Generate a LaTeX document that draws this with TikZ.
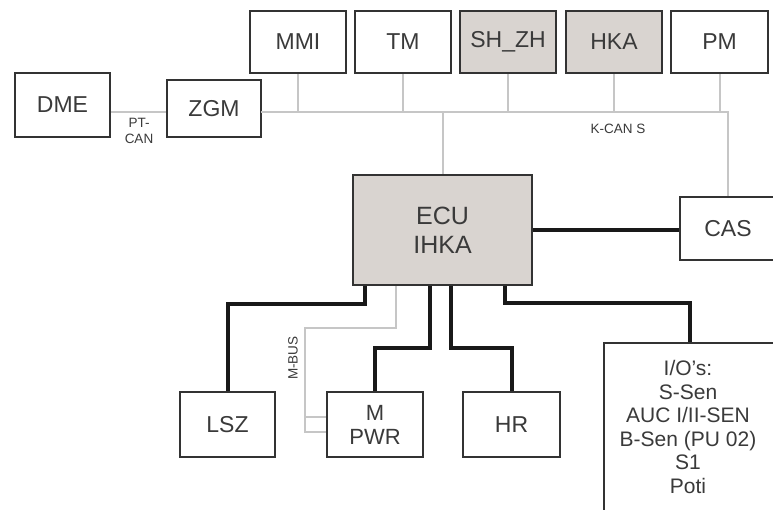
\documentclass[tikz,border=0pt]{standalone}
\usepackage{fontspec}
\setmainfont{Liberation Sans}
\begin{document}
\begin{tikzpicture}[x=1pt,y=-1pt,
  box/.style={draw=boxline, line width=2.4pt, fill=white, inner sep=0pt, text=txt,
    font=\fontsize{23}{26}\selectfont, align=center},
  gbox/.style={box, fill=graybox},
  gry/.style={draw=busgray, line width=2pt},
  blk/.style={draw=black!90, line width=4pt},
  small/.style={text=txt, font=\fontsize{13.5}{16}\selectfont, align=center, inner sep=0pt}]
\definecolor{boxline}{HTML}{333333}
\definecolor{graybox}{HTML}{D9D4D0}
\definecolor{busgray}{HTML}{C6C6C6}
\definecolor{txt}{HTML}{3A3A3A}
\useasboundingbox (0,0) rectangle (773,510);
\clip (0,0) rectangle (773,510);
\fill[white] (0,0) rectangle (773,510);

\coordinate (bus) at (261,112);
\node[box, minimum width=95, minimum height=64] (dme) at (62.5,105) {DME};
\node[box, minimum width=94, minimum height=57] (zgm) at (214,108.5) {ZGM};
\node[box, minimum width=96, minimum height=62] (mmi) at (298,42) {MMI};
\node[box, minimum width=96, minimum height=62] (tm) at (403,42) {TM};
\node[gbox, minimum width=96, minimum height=62] (shzh) at (508,42) {SH\_ZH};
\node[gbox, minimum width=96, minimum height=62] (hka) at (614,42) {HKA};
\node[box, minimum width=97, minimum height=62] (pm) at (719.5,42) {PM};
\node[box, minimum width=96, minimum height=63] (cas) at (728,228.5) {CAS};
\node[box, fill=graybox, minimum width=179, minimum height=110,
  font=\fontsize{25}{29}\selectfont] (ecu) at (442.5,230) {ECU\\IHKA};
\node[box, minimum width=95, minimum height=65] (lsz) at (227.5,424.5) {LSZ};
\node[box, minimum width=96, minimum height=65, font=\fontsize{22}{24}\selectfont] (mpwr) at (375,424.5) {M\\PWR};
\node[box, minimum width=97, minimum height=65] (hr) at (511.5,424.5) {HR};
\node[box, minimum width=172, minimum height=190] (io) at (690,438) {};
\node[text=txt, font=\fontsize{21}{23.5}\selectfont, align=center, inner sep=0pt] (iotext) at (688,427)
  {I/O's:\\S-Sen\\AUC I/II-SEN\\B-Sen (PU 02)\\S1\\Poti};

% K-CAN S bus
\draw[gry] (bus) -| (cas.north);
\draw[gry] (mmi.south) -- (mmi.south |- bus);
\draw[gry] (tm.south) -- (tm.south |- bus);
\draw[gry] (shzh.south) -- (shzh.south |- bus);
\draw[gry] (hka.south) -- (hka.south |- bus);
\draw[gry] (pm.south) -- (pm.south |- bus);
\draw[gry] (ecu.north) -- (ecu.north |- bus);
% PT-CAN
\draw[gry] (dme.east |- bus) -- (zgm.west |- bus);
\node[small] (ptcan) at (139,131) {PT-\\CAN};
\node[small] (kcan) at (618,129) {K-CAN S};

% M-BUS
\draw[gry] (ecu.south west) ++(44,0) -- ++(0,42) -- ++(-91,0) |- ([yshift=-7.5pt]mpwr.west);
\draw[gry] ([yshift=7.5pt]mpwr.west) -- ++(-21,0);
\node[small, rotate=90] (mbus) at (293,358) {M-BUS};

% black wiring
\draw[blk] (ecu.east) -- (ecu.east -| cas.west);
\draw[blk] (ecu.south west) ++(13,0) -- ++(0,18) -| (lsz.north);
\draw[blk] (ecu.south west) ++(78,0) -- ++(0,62) -| (mpwr.north);
\draw[blk] (ecu.south west) ++(99,0) -- ++(0,62) -| (hr.north);
\draw[blk] (ecu.south west) ++(153,0) -- ++(0,17) -| (io.north);
\end{tikzpicture}
\end{document}
